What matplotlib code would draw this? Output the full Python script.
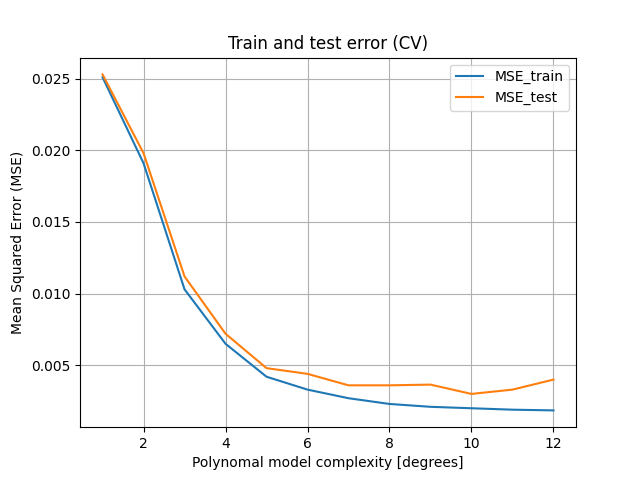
import numpy as np
import matplotlib
matplotlib.use('Agg')
import matplotlib.pyplot as plt

# polynomial degrees and CV errors
degrees = np.arange(1, 13)
mse_train = [0.0251, 0.0191, 0.0103, 0.0065, 0.0042, 0.0033, 0.0027, 0.0023, 0.0021, 0.0020, 0.0019, 0.00185]
mse_test = [0.0253, 0.0198, 0.0112, 0.0072, 0.0048, 0.0044, 0.0036, 0.0036, 0.00365, 0.0030, 0.0033, 0.0040]

plt.figure(figsize=(6.4, 4.8), dpi=100)
plt.plot(degrees, mse_train, label='MSE_train')
plt.plot(degrees, mse_test, label='MSE_test')
plt.xlabel('Polynomal model complexity [degrees]')
plt.ylabel('Mean Squared Error (MSE)')
plt.title('Train and test error (CV)')
plt.grid(True)
plt.legend()
plt.savefig('out.png')
